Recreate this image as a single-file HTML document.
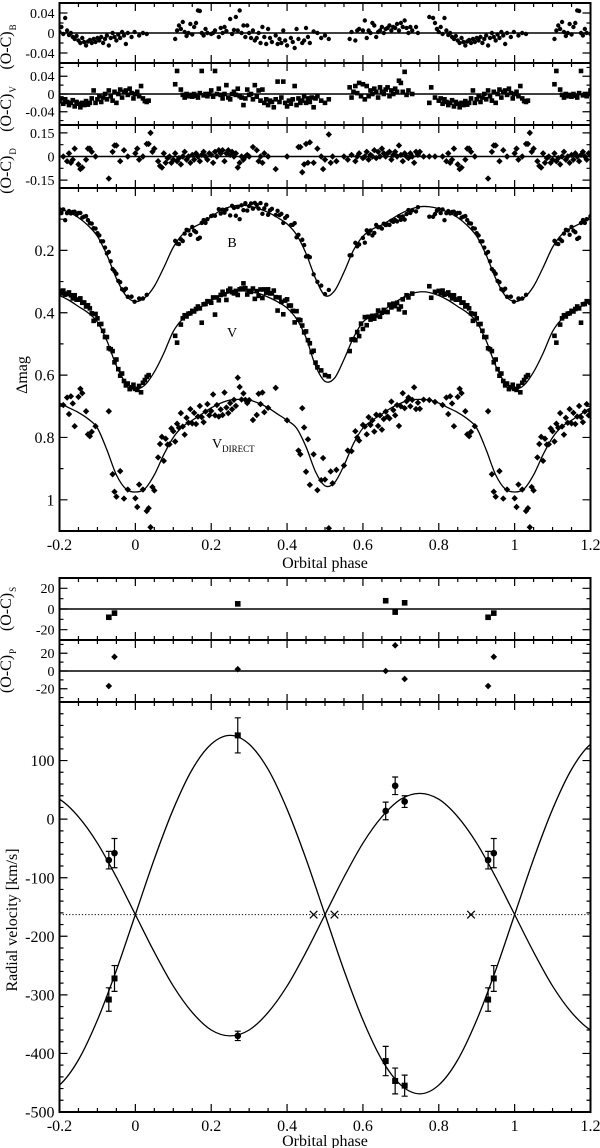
<!DOCTYPE html>
<html><head><meta charset="utf-8"><style>
html,body{margin:0;padding:0;background:#fff}
svg{display:block;font-family:"Liberation Serif",serif}
</style></head><body>
<svg id="chart" width="600" height="1148" viewBox="0 0 600 1148" xmlns="http://www.w3.org/2000/svg"></svg>
<script>
// ---------- data (one orbital period, phase 0..1) ----------
const residB = [[0.775,0.032],[0.785,0.03],[0.79,0.02],[0.795,0.008],[0.80,0.002],[0.805,0.012],[0.81,-0.002],[0.815,0.03],[0.82,0.005],[0.825,-0.004],[0.83,0.0],[0.835,-0.008],[0.84,-0.012],[0.845,-0.006],[0.85,-0.015],[0.855,-0.02],[0.86,-0.01],[0.865,-0.018],[0.87,-0.025],[0.875,-0.017],[0.88,-0.014],[0.885,-0.02],[0.89,-0.012],[0.895,-0.018],[0.90,-0.01],[0.905,-0.015],[0.91,-0.008],[0.915,-0.02],[0.92,-0.012],[0.925,-0.005],[0.93,-0.025],[0.935,-0.01],[0.94,0.0],[0.945,-0.008],[0.95,-0.015],[0.955,-0.003],[0.96,-0.01],[0.965,0.002],[0.97,-0.005],[0.975,-0.022],[0.98,0.0],[0.99,-0.008],[0.998,0.002],[0.01,-0.005],[0.02,0.0],[0.03,-0.002],
[0.105,-0.012],[0.11,0.005],[0.115,0.015],[0.12,0.008],[0.125,0.022],[0.13,0.002],[0.135,-0.006],[0.14,0.0],[0.145,0.018],[0.15,-0.003],[0.155,0.012],[0.16,0.02],[0.165,0.045],[0.17,0.044],[0.175,0.0],[0.18,-0.005],[0.185,0.008],[0.19,0.0],[0.2,-0.002],[0.205,0.0],[0.21,0.005],[0.22,-0.008],[0.225,0.01],[0.23,0.0],[0.235,0.012],[0.24,0.004],[0.25,0.028],[0.255,-0.002],[0.26,0.006],[0.265,0.032],[0.27,0.005],[0.275,0.045],[0.28,0.0],[0.285,0.015],[0.29,-0.008],[0.295,0.015],[0.30,0.0],[0.305,-0.01],[0.31,0.005],[0.315,-0.015],[0.32,-0.01],[0.325,0.0],[0.33,-0.02],[0.335,0.012],[0.34,-0.008],[0.345,-0.022],[0.35,0.008],[0.355,-0.01],[0.36,-0.018],[0.37,-0.005],[0.375,-0.022],[0.38,-0.012],[0.385,-0.02],[0.39,0.005],[0.395,-0.015],[0.40,-0.025],[0.41,-0.01],[0.415,-0.018],[0.42,-0.03],[0.425,0.008],[0.43,-0.012],[0.44,-0.02],[0.445,-0.015],[0.45,0.01],[0.455,-0.008],[0.46,-0.02],[0.47,0.003],[0.48,0.0],[0.49,-0.01],[0.5,-0.005],[0.51,-0.012],
[0.565,-0.012],[0.57,0.002],[0.58,-0.015],[0.585,0.005],[0.59,0.008],[0.60,0.005],[0.605,0.025],[0.61,-0.01],[0.615,0.005],[0.62,0.0],[0.625,0.02],[0.63,0.015],[0.635,-0.008],[0.64,0.002],[0.645,0.005],[0.65,0.012],[0.655,0.0],[0.66,0.008],[0.665,0.01],[0.67,0.015],[0.675,0.005],[0.68,0.012],[0.685,0.01],[0.69,0.018],[0.695,0.005],[0.70,0.02],[0.705,0.012],[0.71,0.025],[0.715,0.01],[0.72,0.0],[0.725,0.012],[0.73,0.005],[0.74,0.012],[0.745,0.0]];
const residV = [[0.775,-0.02],[0.78,0.015],[0.79,-0.008],[0.80,-0.015],[0.805,-0.01],[0.81,-0.022],[0.815,-0.012],[0.82,-0.018],[0.825,-0.025],[0.83,-0.02],[0.835,-0.014],[0.84,-0.028],[0.845,-0.018],[0.85,-0.022],[0.855,-0.03],[0.86,-0.02],[0.865,-0.025],[0.87,-0.016],[0.875,-0.024],[0.88,-0.02],[0.885,-0.01],[0.89,0.008],[0.895,-0.02],[0.9,-0.012],[0.905,-0.005],[0.91,-0.018],[0.915,-0.008],[0.92,0.0],[0.925,-0.012],[0.93,0.008],[0.935,-0.005],[0.94,-0.015],[0.945,0.005],[0.95,-0.02],[0.955,0.0],[0.96,0.01],[0.965,-0.008],[0.97,0.005],[0.975,0.008],[0.98,-0.002],[0.985,0.012],[0.99,0.002],[0.995,-0.01],[0.999,0.0],[0.005,0.005],[0.01,-0.005],[0.015,0.018],[0.02,-0.01],[0.025,-0.016],[0.03,-0.018],[0.035,-0.015],
[0.105,0.022],[0.11,0.052],[0.12,0.01],[0.125,-0.002],[0.13,-0.008],[0.135,0.0],[0.14,-0.005],[0.145,-0.002],[0.15,-0.006],[0.155,0.0],[0.16,-0.004],[0.165,-0.008],[0.17,0.002],[0.175,0.052],[0.18,-0.003],[0.185,0.0],[0.19,-0.005],[0.195,0.0],[0.2,0.008],[0.205,-0.006],[0.21,0.052],[0.215,0.0],[0.22,0.012],[0.225,-0.002],[0.23,-0.01],[0.235,0.0],[0.24,0.02],[0.245,-0.008],[0.25,-0.012],[0.255,0.0],[0.26,0.005],[0.265,-0.002],[0.27,0.012],[0.275,-0.005],[0.28,-0.008],[0.285,-0.025],[0.29,-0.01],[0.295,0.01],[0.30,-0.002],[0.305,0.0],[0.31,-0.012],[0.315,0.02],[0.32,-0.006],[0.325,0.008],[0.33,-0.015],[0.335,0.01],[0.34,-0.02],[0.345,-0.012],[0.35,-0.025],[0.355,-0.015],[0.36,-0.018],[0.365,-0.03],[0.37,-0.012],[0.375,0.028],[0.38,-0.018],[0.385,-0.008],[0.39,0.028],[0.395,-0.02],[0.40,-0.028],[0.405,-0.015],[0.41,-0.022],[0.415,-0.012],[0.42,0.018],[0.425,-0.025],[0.43,-0.01],[0.435,-0.02],[0.44,-0.015],[0.445,-0.005],[0.45,-0.02],[0.455,-0.01],[0.46,-0.018],[0.465,-0.008],[0.47,-0.03],[0.475,-0.01],[0.48,-0.005],[0.49,-0.015],[0.5,-0.02],[0.51,-0.012],
[0.565,0.015],[0.57,-0.008],[0.575,0.005],[0.58,0.018],[0.585,0.002],[0.59,0.025],[0.595,-0.005],[0.60,0.022],[0.605,-0.012],[0.61,0.018],[0.615,-0.005],[0.62,0.008],[0.625,0.0],[0.63,0.012],[0.635,0.005],[0.64,-0.008],[0.645,0.015],[0.65,0.005],[0.655,0.0],[0.66,0.01],[0.665,0.015],[0.67,-0.005],[0.675,0.008],[0.68,0.0],[0.685,0.012],[0.69,0.005],[0.695,0.03],[0.70,0.025],[0.705,0.005],[0.71,0.05],[0.715,-0.002],[0.72,0.008],[0.73,0.0]];
const residD = [[0.0,0.02],[0.005,0.05],[0.01,-0.02],[0.02,0.0],[0.03,0.08],[0.035,0.08],[0.04,0.15],[0.045,0.03],[0.05,0.05],[0.06,-0.03],[0.065,-0.06],[0.07,-0.07],[0.075,0.02],[0.08,-0.04],[0.085,-0.01],[0.09,0.0],[0.095,-0.04],[0.1,-0.02],[0.105,0.02],[0.11,-0.03],[0.115,-0.01],[0.12,-0.05],[0.125,0.0],[0.13,0.03],[0.135,-0.02],[0.14,0.0],[0.145,-0.04],[0.15,0.01],[0.155,-0.02],[0.16,0.02],[0.165,0.0],[0.17,-0.03],[0.175,0.01],[0.18,0.03],[0.185,0.0],[0.19,-0.02],[0.195,0.02],[0.2,0.01],[0.205,-0.04],[0.21,0.03],[0.215,0.0],[0.22,0.04],[0.225,0.02],[0.23,0.04],[0.235,-0.03],[0.24,0.02],[0.245,0.04],[0.25,0.01],[0.255,0.03],[0.26,0.0],[0.265,0.02],[0.27,-0.07],[0.275,-0.04],[0.28,0.0],[0.285,-0.02],[0.29,0.0],[0.295,0.01],[0.3,0.0],[0.31,0.06],[0.32,0.04],[0.325,-0.03],[0.33,0.0],[0.335,-0.04],[0.34,0.02],[0.35,0.0],[0.37,-0.08],[0.4,0.0],[0.43,0.06],[0.435,0.06],[0.44,-0.1],[0.445,-0.05],[0.45,0.08],[0.455,-0.04],[0.46,0.09],[0.47,-0.04],[0.48,0.05],[0.49,0.0],[0.495,-0.08],[0.5,-0.02],[0.51,0.14],[0.515,-0.04],[0.52,0.0],[0.53,-0.03],[0.55,0.0],[0.56,-0.02],[0.57,0.01],[0.58,-0.03],[0.585,0.0],[0.59,0.02],[0.6,-0.01],[0.605,0.0],[0.61,0.03],[0.615,-0.02],[0.62,0.01],[0.625,0.0],[0.63,0.04],[0.635,-0.01],[0.64,0.03],[0.645,0.0],[0.65,0.05],[0.655,0.02],[0.66,0.0],[0.665,0.02],[0.67,0.03],[0.675,-0.02],[0.68,0.01],[0.685,0.03],[0.69,0.0],[0.695,0.07],[0.7,0.01],[0.705,-0.03],[0.71,0.02],[0.715,0.0],[0.72,-0.01],[0.725,0.02],[0.73,0.0],[0.735,-0.04],[0.74,0.03],[0.745,0.01],[0.75,0.03],[0.76,0.0],[0.775,0.0],[0.79,0.0],[0.81,0.0],[0.82,-0.03],[0.825,0.02],[0.83,-0.04],[0.835,-0.02],[0.84,0.05],[0.85,-0.05],[0.855,-0.08],[0.86,-0.07],[0.87,-0.02],[0.875,0.05],[0.88,0.05],[0.885,0.03],[0.895,0.0],[0.93,-0.14],[0.94,0.03],[0.945,0.07],[0.95,0.07],[0.96,-0.03],[0.97,0.04],[0.98,0.0]];

// model light curves sampled every 0.025 in phase from 0 to 1
const modelPhase = [0,0.025,0.05,0.075,0.1,0.125,0.15,0.175,0.2,0.225,0.25,0.275,0.3,0.325,0.35,0.375,0.4,0.425,0.45,0.475,0.5,0.525,0.55,0.575,0.6,0.625,0.65,0.675,0.7,0.725,0.75,0.775,0.8,0.825,0.85,0.875,0.9,0.925,0.95,0.975,1];
const modelB = [.364,.352,.315,.255,.19,.148,.128,.112,.092,.072,.06,.055,.058,.066,.078,.095,.115,.15,.21,.29,.345,.33,.27,.2,.155,.132,.118,.1,.082,.068,.06,.06,.066,.078,.095,.12,.155,.215,.29,.345,.364];
const modelV = [.645,.632,.59,.53,.46,.42,.4,.38,.36,.345,.335,.33,.332,.338,.35,.365,.385,.42,.48,.57,.62,.61,.55,.48,.43,.41,.395,.375,.355,.34,.333,.335,.345,.36,.38,.4,.43,.49,.57,.625,.645];
const modelD = [.975,.965,.92,.855,.8,.765,.745,.725,.705,.69,.68,.678,.68,.69,.705,.725,.745,.77,.83,.91,.955,.945,.89,.82,.77,.745,.725,.705,.69,.68,.678,.68,.69,.705,.72,.74,.77,.84,.92,.965,.975];

// radial velocities
const rvPhase = [0.27,0.66,0.685,0.71,0.93,0.945];
const rvSec = [143,-413,-447,-455,-308,-272];
const rvSecErr = [30,25,22,18,20,22];
const rvPri = [-370,14,57,30,-70,-58];
const rvPriErr = [8,15,15,10,15,25];
const ocSec = [5,8,-3,6,-8,-4];
const ocPri = [2,0,29,-9,-17,16];
const crossPhase = [0.47,0.525,0.885];
const gammaVel = -163;
const rvModelPhase = [0,0.05,0.1,0.15,0.2,0.25,0.3,0.35,0.4,0.45,0.5,0.55,0.6,0.65,0.7,0.75,0.8,0.85,0.9,0.95,1];
const rvModelPri = [-163,-227,-285,-330,-360,-370,-360,-330,-285,-227,-163,-99,-41,4,34,44,34,4,-41,-99,-163];
const rvModelSec = [-163,-68,17,85,128,143,128,85,17,-68,-163,-258,-343,-411,-454,-469,-454,-411,-343,-258,-163];
const xTicks = [-0.2,0,0.2,0.4,0.6,0.8,1,1.2];
const xTickLabels = ["-0.2","0","0.2","0.4","0.6","0.8","1","1.2"];

// ---------- drawing ----------
const NS = "http://www.w3.org/2000/svg";
const svg = document.getElementById("chart");
const L = 59.5, R = 590.5;
const X = p => L + (p + 0.2) * (R - L) / 1.4;
function mk(tag, attrs, parent) {
  const e = document.createElementNS(NS, tag);
  for (const k in attrs) e.setAttribute(k, attrs[k]);
  (parent || svg).appendChild(e);
  return e;
}
function panel(top, bot, ymin, ymax, inv) {
  return { top, bot, Y: v => inv ? top + (v - ymin) / (ymax - ymin) * (bot - top) : bot - (v - ymin) / (ymax - ymin) * (bot - top) };
}
const pB = panel(3, 63, -0.06, 0.06, false);
const pV = panel(63, 125, -0.07, 0.07, false);
const pD = panel(125, 188, -0.2, 0.2, false);
const pM = panel(188, 531, 0, 1.1, true);
const pS = panel(578, 640, -30, 30, false);
const pP = panel(640, 702, -35, 35, false);
const pR = panel(702, 1112, -500, 200, false);

function copies(ph) { return [ph - 1, ph, ph + 1].filter(p => p >= -0.2 && p <= 1.2); }
function interp(xsA, ysA, p) {
  for (let i = 0; i < xsA.length - 1; i++) if (p >= xsA[i] && p <= xsA[i + 1]) {
    const t = (p - xsA[i]) / (xsA[i + 1] - xsA[i]); return ysA[i] + t * (ysA[i + 1] - ysA[i]);
  }
  return ysA[ysA.length - 1];
}
function marker(kind, x, y, s, g) {
  let e;
  if (kind === "circle") e = mk("circle", { cx: x, cy: y, r: s }, g);
  else if (kind === "square") e = mk("rect", { x: x - s, y: y - s, width: 2 * s, height: 2 * s }, g);
  else if (kind === "diamond") e = mk("polygon", { points: `${x},${y - s} ${x + s},${y} ${x},${y + s} ${x - s},${y}` }, g);
  else e = mk("path", { d: `M${x - s},${y - s}L${x + s},${y + s}M${x - s},${y + s}L${x + s},${y - s}`, stroke: "#000", "stroke-width": 1.2, fill: "none" }, g);
  return e;
}
function catmull(pts) {
  let d = `M${pts[0][0]},${pts[0][1]}`;
  for (let i = 0; i < pts.length - 1; i++) {
    const p0 = pts[i - 1] || pts[i], p1 = pts[i], p2 = pts[i + 1], p3 = pts[i + 2] || p2;
    const c1 = [p1[0] + (p2[0] - p0[0]) / 6, p1[1] + (p2[1] - p0[1]) / 6];
    const c2 = [p2[0] - (p3[0] - p1[0]) / 6, p2[1] - (p3[1] - p1[1]) / 6];
    d += `C${c1[0].toFixed(2)},${c1[1].toFixed(2)} ${c2[0].toFixed(2)},${c2[1].toFixed(2)} ${p2[0].toFixed(2)},${p2[1].toFixed(2)}`;
  }
  return d;
}
function periodicPts(phs, vals, pan) {
  const pts = [];
  for (const k of [-1, 0, 1]) phs.forEach((p, i) => {
    const q = p + k;
    if (q >= -0.26 && q <= 1.26 && !(k !== -1 && i === 0 && pts.length)) pts.push([X(q), pan.Y(vals[i])]);
  });
  return pts;
}
let clipN = 0;
function clipFor(pan) {
  const id = "clip" + (clipN++);
  const cp = mk("clipPath", { id });
  mk("rect", { x: L, y: pan.top, width: R - L, height: pan.bot - pan.top }, cp);
  return id;
}
function frame(pan, name, yMajor, yMinor, yLabels, lblSize, xLabels) {
  const g = mk("g", {});
  
  
  const ticks = [];
  for (let i = 0; i <= 28; i++) {
    const p = -0.2 + i * 0.05, x = X(p), maj = i % 4 === 0;
    const len = maj ? 8 : 4;
    ticks.push(`M${x},${pan.bot}v${-len}M${x},${pan.top}v${len}`);
  }
  yMajor.forEach(v => { const y = pan.Y(v); ticks.push(`M${L},${y}h8M${R},${y}h-8`); });
  yMinor.forEach(v => { const y = pan.Y(v); ticks.push(`M${L},${y}h4M${R},${y}h-4`); });
  const tk = mk("path", { d: ticks.join(""), stroke: "#000", "stroke-width": 1.2, fill: "none" }, g);
  
  
  const fr = mk("rect", { x: L, y: pan.top, width: R - L, height: pan.bot - pan.top, fill: "none", stroke: "#000", "stroke-width": 2 }, g);
  
  
  yMajor.forEach((v, i) => {
    const t = mk("text", { x: L - 5, y: pan.Y(v) + lblSize * 0.35, "text-anchor": "end", "font-size": lblSize }, g);
    t.textContent = yLabels[i];
    
    
  });
  if (xLabels) xTicks.forEach((p, i) => {
    const t = mk("text", { x: X(p), y: pan.bot + 19, "text-anchor": "middle", "font-size": 16 }, g);
    t.textContent = xTickLabels[i];
    
    
  });
  return g;
}
function zeroLine(pan) {
  const z = mk("line", { x1: L, x2: R, y1: pan.Y(0), y2: pan.Y(0), stroke: "#000", "stroke-width": 1.5 });
  
  
}
function ocLabel(cx, cy, sub, name) {
  const t = mk("text", { transform: `translate(${cx},${cy}) rotate(-90)`, "text-anchor": "middle", "font-size": 16 });
  
  
  t.textContent = "(O-C)";
  const s = mk("tspan", { "font-size": 9, dy: 5, dx: 1 }, t);
  s.textContent = sub;
}
function residPoints(pan, data, kind, size, name) {
  const g = mk("g", { "clip-path": `url(#${clipFor(pan)})`, fill: "#000" });
  
  
  data.forEach(d => copies(d[0]).forEach(p => {
    const m = marker(kind, X(p), pan.Y(d[1]), size, g);
    
    
  }));
}

// --- top residual panels ---
frame(pB, "oc-b-panel", [-0.04, 0, 0.04], [-0.02, 0.02], ["-0.04", "0", "0.04"], 14, false);
zeroLine(pB); residPoints(pB, residB, "circle", 2.2, "oc-b");
ocLabel(11, 47, "B", "oc-b-axis-title");
frame(pV, "oc-v-panel", [-0.04, 0, 0.04], [-0.02, 0.02, -0.06, 0.06], ["-0.04", "0", "0.04"], 14, false);
zeroLine(pV); residPoints(pV, residV, "square", 2.3, "oc-v");
ocLabel(11, 109, "V", "oc-v-axis-title");
frame(pD, "oc-d-panel", [-0.15, 0, 0.15], [-0.075, 0.075], ["-0.15", "0", "0.15"], 14, false);
zeroLine(pD); residPoints(pD, residD, "diamond", 3.2, "oc-d");
ocLabel(11, 171, "D", "oc-d-axis-title");

// --- main light curve panel ---
frame(pM, "light-curve-panel", [0.2, 0.4, 0.6, 0.8, 1], [0.1, 0.3, 0.5, 0.7, 0.9], ["0.2", "0.4", "0.6", "0.8", "1"], 16, true);
const clipM = clipFor(pM);
[[modelB, residB, "circle", 2.2, "b"], [modelV, residV, "square", 2.3, "v"], [modelD, residD, "diamond", 3.2, "vdirect"]].forEach(([model, res, kind, sz, nm]) => {
  const ln = mk("path", { d: catmull(periodicPts(modelPhase, model, pM)), fill: "none", stroke: "#000", "stroke-width": 1.3, "clip-path": `url(#${clipM})` });
  
  
  const g = mk("g", { fill: "#000", "clip-path": `url(#${clipM})` });
  
  
  res.forEach(d => copies(d[0]).forEach(p => {
    const obs = interp(modelPhase, model, d[0]) + d[1];   // O = C + (O-C)
    const m = marker(kind, X(p), pM.Y(obs), sz, g);
    
    
  }));
});
let tl = mk("text", { x: 232, y: 247, "font-size": 14, "text-anchor": "middle" }); tl.textContent = "B";


tl = mk("text", { x: 232, y: 337, "font-size": 14, "text-anchor": "middle" }); tl.textContent = "V";


tl = mk("text", { x: 212, y: 448, "font-size": 14 }); tl.textContent = "V";


const ts = mk("tspan", { "font-size": 9, dy: 4 }, tl); ts.textContent = "DIRECT";
tl = mk("text", { transform: "translate(27,375) rotate(-90)", "font-size": 16, "text-anchor": "middle" }); tl.textContent = "Δmag";


tl = mk("text", { x: 325, y: 568, "font-size": 16, "text-anchor": "middle" }); tl.textContent = "Orbital phase";



// --- RV residual panels ---
frame(pS, "oc-s-panel", [-20, 0, 20], [-10, 10], ["-20", "0", "20"], 14, false);
zeroLine(pS);
const gS = mk("g", { fill: "#000" });


rvPhase.forEach((ph, i) => copies(ph).forEach(p => {
  const m = marker("square", X(p), pS.Y(ocSec[i]), 2.8, gS);
  
  
}));
ocLabel(11, 609, "S", "oc-s-axis-title");
frame(pP, "oc-p-panel", [-20, 0, 20], [-10, 10, -30, 30], ["-20", "0", "20"], 14, false);
zeroLine(pP);
const gP = mk("g", { fill: "#000" });


rvPhase.forEach((ph, i) => copies(ph).forEach(p => {
  const m = marker("diamond", X(p), pP.Y(ocPri[i]), 3.3, gP);
  
  
}));
ocLabel(11, 671, "P", "oc-p-axis-title");

// --- RV panel ---
const rvMaj = [-500, -400, -300, -200, -100, 0, 100];
const rvMin = []; for (let v = -480; v <= 200; v += 20) if (v % 100) rvMin.push(v);
frame(pR, "rv-panel", rvMaj, rvMin, rvMaj.map(String), 16, true);
const clipR = clipFor(pR);
const gl = mk("line", { x1: L, x2: R, y1: pR.Y(gammaVel), y2: pR.Y(gammaVel), stroke: "#000", "stroke-width": 1, "stroke-dasharray": "1.2,2" });


[[rvModelPri, "primary"], [rvModelSec, "secondary"]].forEach(([mv, nm]) => {
  const ln = mk("path", { d: catmull(periodicPts(rvModelPhase, mv, pR)), fill: "none", stroke: "#000", "stroke-width": 1.3, "clip-path": `url(#${clipR})` });
  
  
});
[[rvSec, rvSecErr, "square", 3, "secondary"], [rvPri, rvPriErr, "circle", 3.3, "primary"]].forEach(([vals, errs, kind, sz, nm]) => {
  const g = mk("g", { fill: "#000" });
  
  
  rvPhase.forEach((ph, i) => copies(ph).forEach(p => {
    const x = X(p), y1 = pR.Y(vals[i] + errs[i]), y2 = pR.Y(vals[i] - errs[i]);
    const eb = mk("path", { d: `M${x},${y1}V${y2}M${x - 3},${y1}h6M${x - 3},${y2}h6`, stroke: "#000", "stroke-width": 1.2, fill: "none" }, g);
    
    
    const m = marker(kind, x, pR.Y(vals[i]), sz, g);
    
    
  }));
});
crossPhase.forEach(ph => {
  const c = marker("cross", X(ph), pR.Y(gammaVel), 3.8);
  
  
});
tl = mk("text", { transform: "translate(17,920) rotate(-90)", "font-size": 16, "text-anchor": "middle" }); tl.textContent = "Radial velocity [km/s]";


tl = mk("text", { x: 325, y: 1146, "font-size": 16, "text-anchor": "middle" }); tl.textContent = "Orbital phase";


</script>
</body></html>
